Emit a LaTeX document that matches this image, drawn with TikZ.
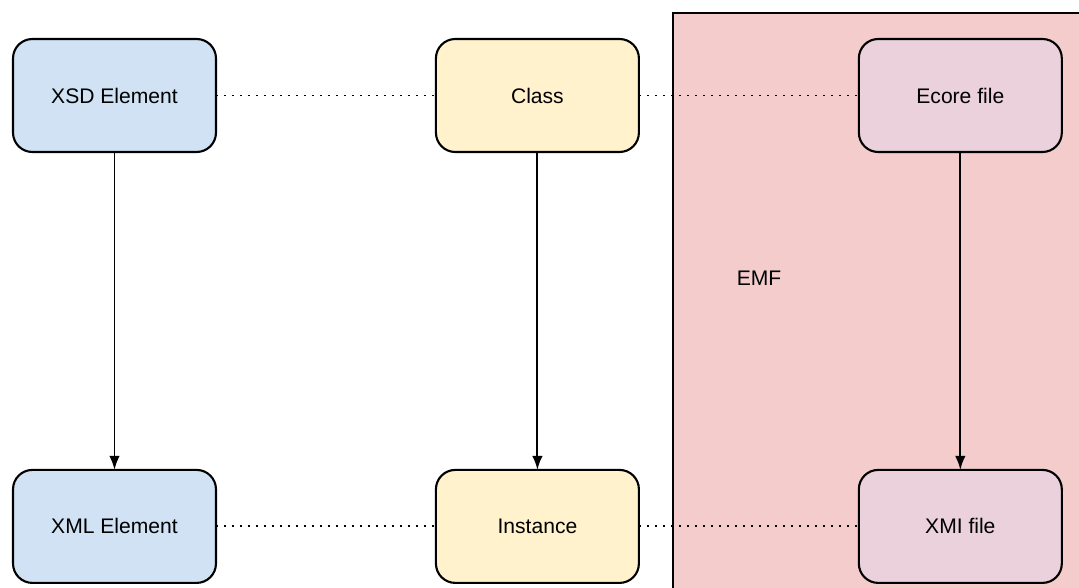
\documentclass[tikz,border=0pt]{standalone}
\usepackage{fontspec}
\setmainfont{Liberation Sans}
\usepackage{tikz}
\usetikzlibrary{arrows.meta}
\usetikzlibrary{positioning}
\tikzset{>=Latex}
\definecolor{xsdblue}{HTML}{D0E2F3}
\definecolor{classyellow}{HTML}{FFF2CC}
\definecolor{emfred}{HTML}{F4CCCC}
\definecolor{filepink}{HTML}{EAD1DC}
\def\colsep{4.4cm}
\def\rowsep{6.36cm}

\begin{document}
\begin{tikzpicture}[
	x=0.02cm, y=-0.02cm,
	box/.style={draw, line width=1.2pt, rounded corners=11pt, outer sep=0pt, minimum width=4.06cm, minimum height=2.26cm, font=\fontsize{12}{14}\selectfont},
	xsd/.style={box, fill=xsdblue},
	cls/.style={box, fill=classyellow},
	ecore/.style={box, fill=filepink},
	link/.style={line width=1.1pt, dash pattern=on 1.1pt off 3.45pt},
	]
	
	\useasboundingbox (0,0) rectangle (1079,588);
	\clip (0,0) rectangle (1079,588);
	
	% EMF container
	\draw[fill=emfred, line width=1.15pt] (673,13) rectangle (1110,620);
	\node[font=\fontsize{12}{14}\selectfont] (emf) at (759,278) {EMF};
	
	\node[xsd] (xsdel) at (114.5,95.5) {XSD Element};
	\node[cls, right=\colsep of xsdel] (class) {Class};
	\node[ecore, right=\colsep of class] (ecorefile) {Ecore file};
	
	\node[xsd, below=\rowsep of xsdel] (xmlel) {XML Element};
	\node[cls, below=\rowsep of class] (instance) {Instance};
	\node[ecore, below=\rowsep of ecorefile] (xmifile) {XMI file};
	
	\foreach \top/\bot in {xsdel/xmlel, class/instance, ecorefile/xmifile}
	\draw[->, line width=1.1pt] (\top) -- (\bot);
	
	\draw[link] (xsdel) -- (class);
	\draw[link] (class) -- (ecorefile);
	\draw[link] (xmlel) -- (instance);
	\draw[link] (instance) -- (xmifile);
	
\end{tikzpicture}
\end{document}
